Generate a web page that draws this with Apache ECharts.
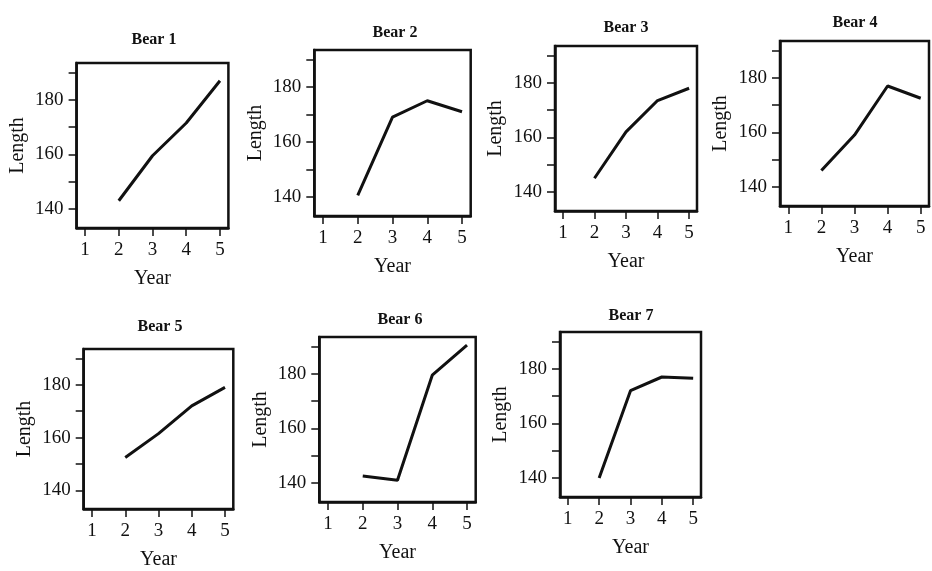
<!DOCTYPE html>
<html>
<head>
<meta charset="utf-8">
<script src="https://cdn.jsdelivr.net/npm/echarts@6/dist/echarts.min.js"></script>
<style>
html,body{margin:0;padding:0;background:#fff;}
#chart{width:932px;height:571px;}
</style>
</head>
<body>
<div id="chart"></div>
<script>
// ---- data ----
const years = [2, 3, 4, 5];
const bearNames = ["Bear 1", "Bear 2", "Bear 3", "Bear 4", "Bear 5", "Bear 6", "Bear 7"];
const bear1 = [143, 159.5, 171.5, 187];
const bear2 = [140.5, 169, 175, 171];
const bear3 = [145, 162, 173.5, 178];
const bear4 = [146, 159, 177, 172.5];
const bear5 = [152.5, 161.5, 172, 179];
const bear6 = [142.5, 141, 179.5, 190.5];
const bear7 = [140, 172, 177, 176.5];
const xTickValues = [1, 2, 3, 4, 5];
const yLabelValues = [140, 160, 180];
const yTickValues = [140, 150, 160, 170, 180, 190];
const xAxisName = "Year";
const yAxisName = "Length";

// ---- layout (pixel boxes per panel) ----
const boxes = [
  {l: 76.6, r: 228.4, t: 63, b: 228, tx: 149, ty: 35},
  {l: 314.3, r: 470.7, t: 50, b: 216, tx: 390, ty: 28},
  {l: 555, r: 697, t: 46, b: 211, tx: 621, ty: 23},
  {l: 780, r: 929, t: 41, b: 206, tx: 850, ty: 18},
  {l: 83.7, r: 233.3, t: 349, b: 515, tx: 155, ty: 322},
  {l: 319.3, r: 475.7, t: 337, b: 502, tx: 395, ty: 315},
  {l: 560, r: 701, t: 332, b: 497, tx: 626, ty: 311}
];
const allBears = [bear1, bear2, bear3, bear4, bear5, bear6, bear7];

const FONT = "Liberation Serif";
const INK = "#111";

const grid = [], xAxis = [], yAxis = [], series = [], title = [];
boxes.forEach((b, i) => {
  grid.push({
    left: b.l, top: b.t, width: b.r - b.l, height: b.b - b.t,
    show: true, borderColor: INK, borderWidth: 2.5, backgroundColor: "#fff"
  });
  xAxis.push({
    gridIndex: i, type: "value", min: 0.75, max: 5.25,
    name: xAxisName, nameLocation: "middle", nameGap: 41,
    nameTextStyle: {fontFamily: FONT, fontSize: 20, color: INK},
    axisLine: {show: true, lineStyle: {color: INK, width: 2.5}},
    axisTick: {show: true, customValues: xTickValues, length: 8, lineStyle: {color: INK, width: 1.5}},
    axisLabel: {customValues: xTickValues, fontFamily: FONT, fontSize: 19, color: INK, margin: 13},
    splitLine: {show: false}
  });
  yAxis.push({
    gridIndex: i, type: "value", min: 133, max: 193.5,
    name: yAxisName, nameLocation: "middle", nameGap: 49, nameRotate: 90,
    nameTextStyle: {fontFamily: FONT, fontSize: 20, color: INK},
    axisLine: {show: true, lineStyle: {color: INK, width: 2.5}},
    axisTick: {show: true, customValues: yTickValues, length: 8, lineStyle: {color: INK, width: 1.5}},
    axisLabel: {customValues: yLabelValues, fontFamily: FONT, fontSize: 19, color: INK, margin: 13},
    splitLine: {show: false}
  });
  series.push({
    type: "line", xAxisIndex: i, yAxisIndex: i,
    data: years.map((y, k) => [y, allBears[i][k]]),
    showSymbol: false, symbol: "none",
    lineStyle: {color: INK, width: 3}, animation: false
  });
  title.push({
    text: bearNames[i], left: b.tx, top: b.ty, textAlign: "center", textVerticalAlign: "middle",
    textStyle: {fontFamily: FONT, fontSize: 16, fontWeight: "bold", color: INK}
  });
});

const chart = echarts.init(document.getElementById("chart"), null, {renderer: "canvas"});
chart.setOption({
  backgroundColor: "#fff",
  animation: false,
  title: title,
  grid: grid, xAxis: xAxis, yAxis: yAxis, series: series
});
</script>
</body>
</html>
